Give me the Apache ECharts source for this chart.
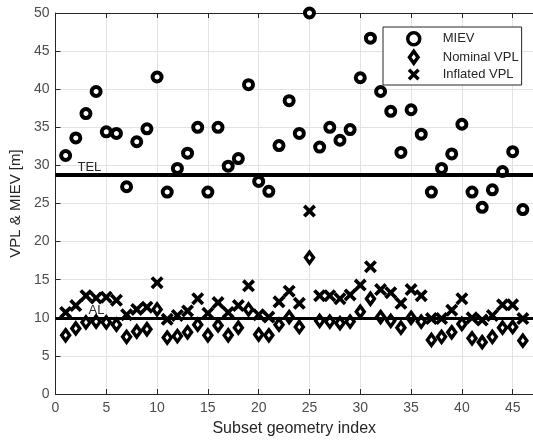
<!DOCTYPE html>
<html>
<head>
<meta charset="utf-8">
<script src="https://cdn.jsdelivr.net/npm/echarts@6/dist/echarts.min.js"></script>
<style>html,body{margin:0;padding:0;background:#fff;}#c{width:533px;height:442px;}</style>
</head>
<body>
<div id="c"></div>
<script>
const indices = [1,2,3,4,5,6,7,8,9,10,11,12,13,14,15,16,17,18,19,20,21,22,23,24,25,26,27,28,29,30,31,32,33,34,35,36,37,38,39,40,41,42,43,44,45,46];
const miev = [31.3,33.6,36.8,39.7,34.4,34.2,27.2,33.1,34.8,41.6, 26.5,29.6,31.6,35.0,26.5,35.0,29.9,30.9,40.6,27.9, 26.6,32.6,38.5,34.2,50.0,32.4,35.0,33.3,34.7,41.5, 46.7,39.7,37.1,31.7,37.3,34.1,26.5,29.6,31.5,35.4, 26.5,24.5,26.8,29.2,31.8,24.2];
const nominalVPL = [7.7,8.6,9.4,9.5,9.4,9.1,7.5,8.2,8.5,11.1, 7.4,7.6,8.1,9.1,7.7,9.0,7.7,8.7,11.1,7.8, 7.7,9.1,10.1,8.8,17.9,9.6,9.5,9.3,9.5,10.8, 12.5,10.1,9.6,8.7,10.0,9.5,7.1,7.5,8.1,9.2, 7.3,6.8,7.5,8.7,8.8,7.0];
const inflatedVPL = [10.7,11.6,12.9,12.6,12.7,12.3,10.4,11.1,11.4,14.6, 9.8,10.3,10.9,12.5,10.6,12.0,10.7,11.6,14.2,10.4, 10.1,12.1,13.5,11.9,24.0,12.9,12.9,12.5,13.0,14.3, 16.7,13.7,13.3,11.9,13.7,12.9,9.9,9.9,11.0,12.5, 10.0,9.7,10.3,11.7,11.7,9.9];
const TEL = 28.8;
const AL = 10.0;
const seriesNames = ['MIEV', 'Nominal VPL', 'Inflated VPL'];
const xTicks = {min: 0, max: 47, interval: 5};
const yTicks = {min: 0, max: 50, interval: 5};

const pair = (ys) => indices.map((x, i) => [x, ys[i]]);
const font = 'Liberation Sans, Arial, Helvetica, sans-serif';
const crossPath = 'path://M0,2L2,0L5,3L8,0L10,2L7,5L10,8L8,10L5,7L2,10L0,8L3,5Z';
const diamondPath = 'path://M5,0L10,7L5,14L0,7Z';

const chart = echarts.init(document.getElementById('c'), null, {renderer: 'canvas'});
const gridLeft = 54, gridTop = 13, gridH = 383;
const pxPerUnit = 10.37;

chart.setOption({
  animation: false,
  backgroundColor: '#fff',
  textStyle: {fontFamily: font},
  grid: {left: gridLeft, top: gridTop, height: gridH, width: pxPerUnit * xTicks.max},
  legend: {
    orient: 'vertical',
    left: 383, top: 27,
    padding: [4, 3, 4, 23],
    itemWidth: 44, itemHeight: 12, itemGap: 3,
    backgroundColor: '#fff',
    borderColor: '#262626', borderWidth: 1, borderRadius: 0,
    textStyle: {fontFamily: font, fontSize: 13, color: '#262626', padding: [0, 0, 0, 2]},
    data: [
      {name: seriesNames[0], icon: 'circle', itemStyle: {color: '#fff', borderColor: '#000', borderWidth: 3.5}},
      {name: seriesNames[1], icon: diamondPath, itemStyle: {color: '#fff', borderColor: '#000', borderWidth: 3.5}},
      {name: seriesNames[2], icon: crossPath, itemStyle: {color: '#000', borderColor: '#000', borderWidth: 0}}
    ]
  },
  xAxis: [{
    type: 'value', position: 'bottom',
    min: xTicks.min, max: xTicks.max, interval: xTicks.interval,
    name: 'Subset geometry index', nameLocation: 'middle', nameGap: 27,
    nameTextStyle: {fontFamily: font, fontSize: 16, color: '#262626'},
    axisLine: {show: true, onZero: false, lineStyle: {color: '#262626', width: 1}},
    axisTick: {show: true, inside: true, length: 5, lineStyle: {color: '#262626'}},
    axisLabel: {fontFamily: font, fontSize: 14, color: '#4d4d4d', margin: 7, showMaxLabel: false},
    splitLine: {show: true, lineStyle: {color: '#e3e3e3', width: 1}}
  }, {
    type: 'value', position: 'top',
    min: xTicks.min, max: xTicks.max, interval: xTicks.interval,
    axisLine: {show: true, onZero: false, lineStyle: {color: '#262626', width: 1}},
    axisTick: {show: true, inside: true, length: 5, lineStyle: {color: '#262626'}},
    axisLabel: {show: false},
    splitLine: {show: false}
  }],
  yAxis: [{
    type: 'value',
    min: yTicks.min, max: yTicks.max, interval: yTicks.interval,
    name: 'VPL & MIEV [m]', nameLocation: 'middle', nameGap: 27, nameRotate: 90,
    nameTextStyle: {fontFamily: font, fontSize: 15, color: '#262626'},
    axisLine: {show: true, onZero: false, lineStyle: {color: '#262626', width: 1}},
    axisTick: {show: true, inside: true, length: 5, lineStyle: {color: '#262626'}},
    axisLabel: {fontFamily: font, fontSize: 14, color: '#4d4d4d', margin: 6},
    splitLine: {show: true, lineStyle: {color: '#e3e3e3', width: 1}}
  }],
  series: [
    {
      name: 'refLines', type: 'line', data: [], z: 1, silent: true,
      markLine: {
        silent: true, symbol: 'none', animation: false,
        data: [
          {yAxis: TEL, lineStyle: {color: '#000', width: 4, type: 'solid'},
           label: {show: true, formatter: 'TEL', position: 'insideStartTop', distance: [22, 1], color: '#262626', fontSize: 13, fontFamily: font}},
          {yAxis: AL, lineStyle: {color: '#000', width: 3, type: 'solid'},
           label: {show: true, formatter: 'AL', position: 'insideStartTop', distance: [33, 1], color: '#262626', fontSize: 13, fontFamily: font}}
        ]
      }
    },
    {
      name: seriesNames[0], type: 'scatter', z: 3, data: pair(miev),
      symbol: 'circle', symbolSize: 9,
      itemStyle: {color: '#fff', borderColor: '#000', borderWidth: 4, opacity: 1}
    },
    {
      name: seriesNames[1], type: 'scatter', z: 3, data: pair(nominalVPL),
      symbol: diamondPath, symbolSize: [8, 11],
      itemStyle: {color: '#fff', borderColor: '#000', borderWidth: 3.5, opacity: 1}
    },
    {
      name: seriesNames[2], type: 'scatter', z: 4, data: pair(inflatedVPL),
      symbol: crossPath, symbolSize: 13,
      itemStyle: {color: '#000', opacity: 1}
    }
  ]
});
</script>
</body>
</html>
